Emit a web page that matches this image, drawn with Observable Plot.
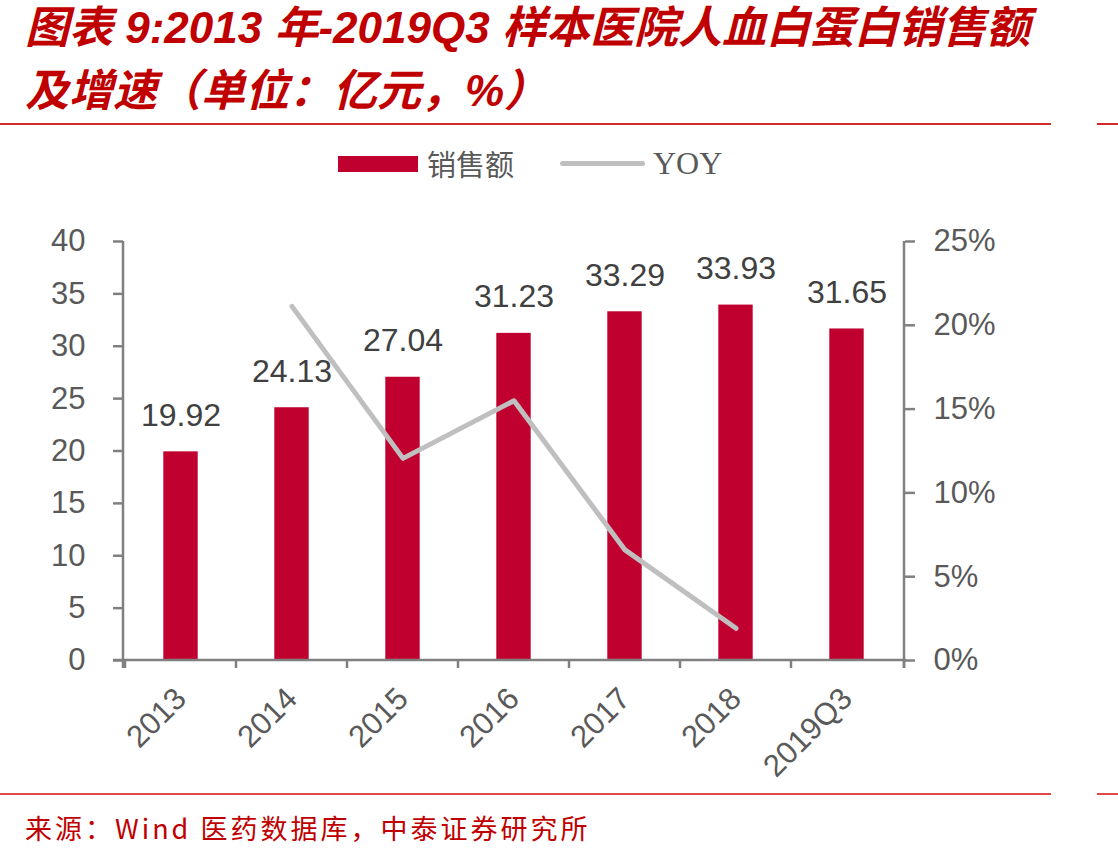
<!DOCTYPE html>
<html>
<head>
<meta charset="utf-8">
<script src="https://cdn.jsdelivr.net/npm/d3@7"></script>
<script src="https://cdn.jsdelivr.net/npm/@observablehq/plot@0.6"></script>
<style>
  body { margin: 0; background: #fff; }
  #page { position: relative; width: 1118px; height: 858px; overflow: hidden; background: #fff; }
  .title { position: absolute; left: 25px; top: -4px; color: #c00000; font-weight: bold; font-style: italic;
           font-size: 44px; line-height: 63px; white-space: nowrap;
           font-family: "Liberation Sans", "Noto Sans CJK SC", sans-serif; }
  .rule { position: absolute; height: 2px; }
  .legend { position: absolute; top: 140px; left: 0; width: 1118px; height: 46px; }
  .swatch-bar { position: absolute; left: 338px; top: 16px; width: 80px; height: 16px; background: #c0002f; }
  .swatch-line { position: absolute; left: 560px; top: 21px; width: 85px; height: 5px; border-radius: 3px; background: #bfbfbf; }
  .legend-text { position: absolute; top: 0; line-height: 46px; color: #595959; white-space: nowrap; }
  .source { position: absolute; left: 25px; top: 809px; color: #c00000; font-size: 27px; line-height: 38px;
            letter-spacing: 3px; font-family: "Noto Sans CJK SC", sans-serif; white-space: nowrap; }
  #chart { position: absolute; left: 0; top: 190px; }
</style>
</head>
<body>
<div id="page">
  <div class="title">图表 9:2013 年-2019Q3 样本医院人血白蛋白销售额<br>及增速（单位：亿元，%）</div>
  <div class="rule" style="left:0;top:123px;width:1051px;background:#d42a2a;"></div>
  <div class="rule" style="left:1097px;top:123px;width:21px;background:#d42a2a;"></div>
  <div class="legend">
    <div class="swatch-bar"></div>
    <div class="legend-text" style="left:427px;font-size:29px;font-family:'Noto Sans CJK SC',serif;">销售额</div>
    <div class="swatch-line"></div>
    <div class="legend-text" style="left:653px;font-size:32px;font-family:'Liberation Serif',serif;">YOY</div>
  </div>
  <div id="chart"></div>
  <div class="rule" style="left:0;top:793px;width:1051px;background:#e04848;"></div>
  <div class="rule" style="left:1097px;top:793px;width:21px;background:#e04848;"></div>
  <div class="source">来源：Wind 医药数据库，中泰证券研究所</div>
</div>
<script>
// Categories and series
const periods = ["2013", "2014", "2015", "2016", "2017", "2018", "2019Q3"];
const sales = [19.92, 24.13, 27.04, 31.23, 33.29, 33.93, 31.65];        // 亿元
const yoyPeriods = ["2014", "2015", "2016", "2017", "2018"];
const yoy = [21.13, 12.06, 15.50, 6.60, 1.92];                           // %

// Axis ticks
const salesTicks = [0, 5, 10, 15, 20, 25, 30, 35, 40];
const yoyTicks = [0, 5, 10, 15, 20, 25];
const salesMax = 40;
const yoyMax = 25;

const barData = periods.map((p, i) => ({period: p, sales: sales[i]}));
const yoyData = yoyPeriods.map((p, i) => ({period: p, yoy: yoy[i]}));

// the YOY series shares the sales y scale: yoyMax on the right maps to salesMax on the left
const toLeft = v => v / yoyMax * salesMax;

const axisGray = "#808080";

// axis domain lines and category boundary ticks
function axisFrame(index, scales, values, dims) {
  const {x, y} = scales;
  const left = dims.marginLeft;
  const right = dims.width - dims.marginRight;
  const top = y(salesMax), base = y(0);
  const g = d3.create("svg:g")
    .attr("stroke", axisGray)
    .attr("stroke-width", 2.5)
    .attr("fill", "none");
  g.append("line").attr("x1", left).attr("x2", left).attr("y1", top).attr("y2", base + 8);
  g.append("line").attr("x1", right).attr("x2", right).attr("y1", top).attr("y2", base + 8);
  g.append("line").attr("x1", left - 10).attr("x2", right + 2).attr("y1", base).attr("y2", base);
  const bounds = x.domain().map(d => x(d)).concat([right]);
  for (const bx of bounds) {
    g.append("line").attr("x1", bx).attr("x2", bx).attr("y1", base).attr("y2", base + 8);
  }
  return g.node();
}

const chart = Plot.plot({
  width: 1118,
  height: 600,
  marginLeft: 123,
  marginRight: 214,
  marginTop: 51,
  marginBottom: 130,
  style: {fontFamily: "'Liberation Sans', Arial, sans-serif", fontSize: "31px", color: "#595959", background: "transparent", overflow: "visible"},
  x: {domain: periods, padding: 0, label: null, axis: null},
  y: {domain: [0, salesMax], label: null, axis: null},
  marks: [
    Plot.barY(barData, {x: "period", y: "sales", fill: "#c0002f", insetLeft: 38.3, insetRight: 38.3}),
    Plot.line(yoyData, {x: "period", y: d => toLeft(d.yoy), stroke: "#bfbfbf", strokeWidth: 5, strokeLinecap: "round", strokeLinejoin: "round"}),
    Plot.text(barData, {x: "period", y: "sales", text: d => d.sales.toFixed(2), lineAnchor: "bottom", dy: -26, fontSize: 32, fill: "#404040"}),
    Plot.axisY({anchor: "left", ticks: salesTicks, tickSize: 10, tickPadding: 28, stroke: axisGray, strokeWidth: 2.5, fill: "#595959", fontSize: 31, label: null}),
    Plot.axisY({anchor: "right", ticks: yoyTicks.map(toLeft), tickFormat: v => `${Math.round(v / salesMax * yoyMax)}%`, tickSize: 10, tickPadding: 19, stroke: axisGray, strokeWidth: 2.5, fill: "#595959", fontSize: 31, label: null}),
    Plot.axisX({anchor: "bottom", tickSize: 0, tickPadding: 33, tickRotate: -45, fill: "#595959", fontSize: 31, label: null}),
    axisFrame
  ]
});
document.getElementById("chart").appendChild(chart);
</script>
</body>
</html>
